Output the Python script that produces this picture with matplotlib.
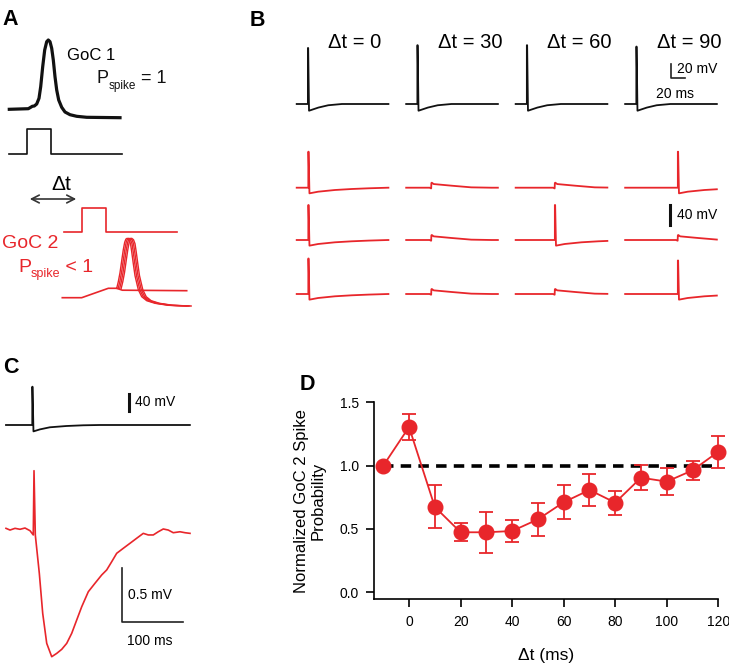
import numpy as np
import matplotlib
matplotlib.use('Agg')
import matplotlib.pyplot as plt

plt.rcParams['font.family'] = ['Liberation Sans', 'DejaVu Sans']

RED = '#e8262b'
BLK = '#111111'

# ---------------- data ----------------
# Panel A (schematic units)
goc1_spike_t = [0, 19, 21.4, 23, 25, 27.4, 29.7, 31.4, 33.4, 35.4, 37.4, 39, 40.7, 42.4, 44,
                45.7, 47.4, 49.4, 52.4, 55.7, 60.7, 67.4, 77.4, 110.7]
goc1_spike_v = [0, 0.6, 2, 3, 3.3, 5.3, 11, 22.6, 42.6, 59.3, 67.6, 69.3, 67.6, 61, 49.3,
                32.6, 19.3, 9.3, 2, -2.7, -5.4, -7, -8, -8.4]
step_t = [0, 18, 18, 42, 42, 113]
step_v = [0, 0, 25, 25, 0, 0]
goc2_pre_t = [0, 19.4, 46, 54.4]
goc2_pre_v = [0, 0, 9.4, 9.4]
goc2_spike_t = [0, 1.6, 3.3, 5, 6.6, 8, 9.2, 10.5, 12.3, 13.8, 15, 16.6, 18.3, 21.6, 25, 30, 38.3, 51.6, 70]
goc2_spike_v = [9.4, 16, 25, 37, 48, 55.5, 58.6, 59.4, 58, 54, 46, 34, 22, 8, 1, -3, -5.6, -7.6, -8.3]
goc2_jitter = [0, 1.5, 3.0, 4.5]
goc2_fail_t = [54.4, 60, 124.4]
goc2_fail_v = [9.4, 7.5, 7]

# Panel B
dt_titles = ['\u0394t = 0', '\u0394t = 30', '\u0394t = 60', '\u0394t = 90']
sweep_len = 131.0            # ms
goc1_spike_time = 16.0       # ms
goc1_peak = [80, 84, 84, 82]  # mV
goc1_ahp_t = [0.4, 1.6, 15, 29, 48.6]
goc1_ahp_v = [None, -9.6, -5.1, -1.8, 0]
goc2_event_time = [16.6, 36.0, 56.0, 75.3]   # ms, per column
goc2_spiked = [[1, 0, 0, 1],
               [1, 0, 1, 0],
               [1, 0, 0, 1]]
goc2_peak = [[72, 0, 0, 72],
             [70, 0, 70, 0],
             [71, 0, 0, 67]]
red_ahp_t = [0.4, 1.6, 14, 38, 62, 86, 114]
red_ahp_v = [None, -11.3, -8, -4.6, -2.6, -1.2, 0]
bump_t = [-2.5, -0.3, 0, 0.6, 3.3, 29, 57, 86]
bump_v = [0, -1.5, 9.5, 10, 7.3, 4, 0.7, 0]

# Panel C
c_black_t = [0, 42.6, 42.6, 43.0, 44.5, 55, 71, 98, 125, 152, 298]
c_black_v = [0, 0, 91.7, 91.7, -15.3, -10.5, -5.5, -2.4, -0.7, 0, 0]
c_red_t = [0, 6.5, 14.6, 22.7, 30.8, 38.9, 44.2, 45.4, 47.5, 54.0, 59.5, 66.0, 74.1, 82.2, 90.3,
           98.4, 106.5, 114.6, 122.7, 133.4, 144.2, 155.1, 163.2, 171.3, 179.4, 190.1, 201.0,
           211.8, 222.5, 230.6, 238.7, 246.8, 254.9, 263.0, 271.1, 282.0, 290.1, 298.2]
c_red_v = [0.009, -0.007, 0.009, 0.0, 0.012, -0.013, -0.053, 0.549, -0.053, -0.413, -0.788,
           -1.069, -1.194, -1.163, -1.125, -1.069, -0.975, -0.850, -0.726, -0.585, -0.506,
           -0.428, -0.381, -0.304, -0.225, -0.178, -0.131, -0.084, -0.038, -0.053, -0.053,
           -0.023, 0.003, -0.007, -0.032, -0.023, -0.032, -0.038]

# Panel D
d_dt = [-10, 0, 10, 20, 30, 40, 50, 60, 70, 80, 90, 100, 110, 120]
d_prob = [1.0, 1.305, 0.674, 0.474, 0.474, 0.484, 0.576, 0.711, 0.808, 0.708, 0.905, 0.874, 0.963, 1.11]
d_sem = [0.0, 0.10, 0.17, 0.07, 0.16, 0.09, 0.13, 0.135, 0.125, 0.095, 0.10, 0.105, 0.077, 0.125]
d_ref = 1.0

# ---------------- figure ----------------
W, H = 729, 669
fig = plt.figure(figsize=(W / 100, H / 100), dpi=100)


def ax_px(left, top, right, bottom):
    return fig.add_axes([left / W, 1 - bottom / H, (right - left) / W, (bottom - top) / H])


def panel_label(x, y, s):
    fig.text(x / W, 1 - y / H, s, fontsize=15.5, fontweight='bold', ha='left', va='baseline')


def sub_label(ax, x, y, main, sub, rest, fs, fs_sub, drop, color):
    t1 = ax.text(x, y, main, fontsize=fs, color=color, ha='left', va='baseline')
    t2 = ax.annotate(sub, xy=(1, y - drop), xycoords=(t1, 'data'), fontsize=fs_sub,
                     color=color, ha='left', va='baseline')
    ax.annotate(rest, xy=(1, y), xycoords=(t2, 'data'), fontsize=fs, color=color,
                ha='left', va='baseline')


panel_label(2, 25, 'A')
panel_label(250, 26, 'B')
panel_label(3, 373, 'C')
panel_label(300, 390, 'D')

# ---- Panel A ----
axA = ax_px(0, 0, 200, 320)
axA.set_xlim(0, 200)
axA.set_ylim(0, 320)
axA.set_axis_off()
ox, oy = 9.3, 210.7
axA.plot(np.array(goc1_spike_t) + ox, np.array(goc1_spike_v) + oy, color=BLK, lw=2.3,
         solid_joinstyle='round')
axA.plot(np.array(step_t) + 9, np.array(step_v) + 166, color=BLK, lw=1.2)
axA.annotate('', xy=(27, 121), xytext=(79, 121),
             arrowprops=dict(arrowstyle='<->,head_length=0.55,head_width=0.28', color='#333333', lw=1.2))
axA.text(61, 130, '\u0394t', fontsize=15, ha='center', va='baseline')
axA.text(67, 260, 'GoC 1', fontsize=12, ha='left', va='baseline')
sub_label(axA, 97, 237, 'P', 'spike', ' = 1', 13, 8.5, 6.5, BLK)
axA.plot(np.array(step_t) + 64, np.array(step_v) * 0.96 + 88, color=RED, lw=1.2)
axA.text(2, 72, 'GoC 2', fontsize=14, color=RED, ha='left', va='baseline')
sub_label(axA, 18, 48, 'P', 'spike', ' < 1', 14, 9, 5.5, RED)
rx, ry = 62.3, 22.3
axA.plot(np.array(goc2_pre_t) + rx, np.array(goc2_pre_v) + ry, color=RED, lw=1.2)
axA.plot(np.array(goc2_fail_t) + rx, np.array(goc2_fail_v) + ry, color=RED, lw=1.2)
for j in goc2_jitter:
    axA.plot(np.array(goc2_spike_t) + goc2_pre_t[-1] + j + rx, np.array(goc2_spike_v) + ry,
             color=RED, lw=1.0)

# ---- Panel B ----
kx = 0.7           # px per ms
col_step = 156.4   # ms between columns (layout)
axBk = ax_px(285, 25, 729, 120)
axBk.set_xlim((285 - 296.7) / kx, (729 - 296.7) / kx)
axBk.set_ylim((104 - 120) / 0.7, (104 - 25) / 0.7)
axBk.set_axis_off()
for c in range(4):
    x0 = c * col_step
    ts = goc1_spike_time
    t = [0, ts, ts] + [ts + a for a in goc1_ahp_t] + [sweep_len]
    v = [0, 0, goc1_peak[c]] + [goc1_peak[c] if vv is None else vv for vv in goc1_ahp_v] + [0]
    axBk.plot(np.array(t) + x0, v, color=BLK, lw=1.3)
    axBk.text(x0 + 45, 79.6, dt_titles[c], fontsize=14.5, ha='left', va='baseline')
# scale bar 20 mV / 20 ms
sbx = (670.7 - 296.7) / kx
sby = (104 - 78.3) / 0.7
axBk.plot([sbx, sbx, sbx + 20], [sby + 20, sby, sby], color='#222222', lw=1.2)
axBk.text((676.7 - 296.7) / kx, sby + 13.3, '20 mV', fontsize=10, ha='left', va='center')
axBk.text((656 - 296.7) / kx, (104 - 98.3) / 0.7, '20 ms', fontsize=10, ha='left', va='baseline')

axBr = ax_px(285, 130, 729, 315)
axBr.set_xlim((285 - 296.7) / kx, (729 - 296.7) / kx)
axBr.set_ylim((187.7 - 315) / 0.5, (187.7 - 130) / 0.5)
axBr.set_axis_off()
row_off = [0, -104.6, -212.6]
for r in range(3):
    for c in range(4):
        x0 = c * col_step
        te = goc2_event_time[c]
        if goc2_spiked[r][c]:
            pk = goc2_peak[r][c]
            t = [0, te, te] + [te + a for a in red_ahp_t]
            v = [0, 0, pk] + [pk if vv is None else vv for vv in red_ahp_v]
        else:
            t = [0] + [te + a for a in bump_t]
            v = [0] + list(bump_v)
        t = np.array(t)
        v = np.array(v, dtype=float)
        keep = t <= sweep_len
        tt = list(t[keep])
        vv = list(v[keep])
        if tt[-1] < sweep_len:
            nxt = np.where(~keep)[0]
            if len(nxt):
                i = nxt[0]
                f = (sweep_len - t[i - 1]) / (t[i] - t[i - 1])
                tt.append(sweep_len)
                vv.append(v[i - 1] + f * (v[i] - v[i - 1]))
            else:
                tt.append(sweep_len)
                vv.append(vv[-1])
        axBr.plot(np.array(tt) + x0, np.array(vv) + row_off[r], color=RED, lw=1.3)
rbx = (670 - 296.7) / kx
axBr.plot([rbx, rbx], [(187.7 - 205) / 0.5, (187.7 - 225) / 0.5], color=BLK, lw=2.2)
axBr.text((676.7 - 296.7) / kx, (187.7 - 215) / 0.5, '40 mV', fontsize=10, ha='left', va='center')

# ---- Panel C ----
cx = 0.617
axCk = ax_px(0, 375, 200, 445)
axCk.set_xlim((0 - 6) / cx, (200 - 6) / cx)
axCk.set_ylim((425 - 445) / 0.4175, (425 - 375) / 0.4175)
axCk.set_axis_off()
axCk.plot(c_black_t, c_black_v, color=BLK, lw=1.3)
cbx = (129.3 - 6) / cx
axCk.plot([cbx, cbx], [(425 - 394) / 0.4175, (425 - 410.7) / 0.4175], color=BLK, lw=2.2)
axCk.text((135 - 6) / cx, (425 - 402) / 0.4175, '40 mV', fontsize=10, ha='left', va='center')

axCr = ax_px(0, 455, 200, 669)
axCr.set_xlim((0 - 6) / cx, (200 - 6) / cx)
axCr.set_ylim((529.3 - 669) / 106.7, (529.3 - 455) / 106.7)
axCr.set_axis_off()
axCr.plot(c_red_t, c_red_v, color=RED, lw=1.2)
crx = (121.7 - 6) / cx
cry = (529.3 - 621.7) / 106.7
axCr.plot([crx, crx, crx + 100], [cry + 0.5, cry, cry], color='#222222', lw=1.2)
axCr.text((128 - 6) / cx, cry + 0.25, '0.5 mV', fontsize=10, ha='left', va='center')
axCr.text((150 - 6) / cx, (529.3 - 645) / 106.7, '100 ms', fontsize=10, ha='center', va='baseline')

# ---- Panel D ----
axD = ax_px(374, 402.3, 718.3, 599.3)
axD.set_xlim(-13.6, 120)
axD.set_ylim(-0.055, 1.5)
axD.plot([d_dt[0], d_dt[-1]], [d_ref, d_ref], color='black', lw=2.6, ls=(0, (2.9, 2.0)), zorder=1)
axD.errorbar(d_dt, d_prob, yerr=d_sem, fmt='-o', color=RED, mfc=RED, mec=RED, ms=10.5, lw=1.3,
             elinewidth=1.3, capsize=5, capthick=1.3, zorder=3, clip_on=False)
for s in ['top', 'right']:
    axD.spines[s].set_visible(False)
for s in ['left', 'bottom']:
    axD.spines[s].set_linewidth(1.2)
axD.set_xticks([0, 20, 40, 60, 80, 100, 120])
axD.set_yticks([0.0, 0.5, 1.0, 1.5])
axD.set_yticklabels(['0.0', '0.5', '1.0', '1.5'])
axD.tick_params(direction='out', length=6, width=1.2, labelsize=10, pad=5)
axD.set_xlabel('\u0394t (ms)', fontsize=12.5, labelpad=14)
axD.set_ylabel('Normalized GoC 2 Spike\nProbability', fontsize=12, labelpad=10, linespacing=1.1)

fig.savefig('out.png', dpi=100)
